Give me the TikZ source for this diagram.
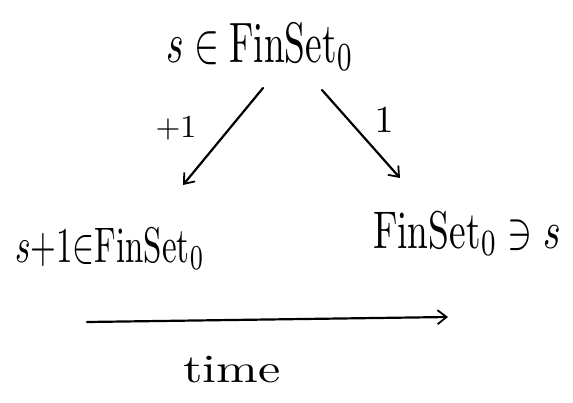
\documentclass[tikz,border=0pt]{standalone}
\usepackage{graphicx}
\usetikzlibrary{arrows.meta,calc}
\tikzset{
  lbl/.style={inner sep=0pt, anchor=base},
  arr/.style={line width=2.2pt, line cap=round,
    -{Straight Barb[length=9pt,width=14pt,line width=1.8pt]}},
}
\begin{document}
\begin{tikzpicture}[x=1pt,y=-1pt]
\useasboundingbox (0,0) rectangle (573,402);
\node[lbl] (top) at (260,62) {\scalebox{3.74}[5.7]{$s\in\mathrm{FinSet}_0$}};
\node[lbl] (bl) at (110,262) {\scalebox{3.3}[5]{$s{+}1{\in}\mathrm{FinSet}_0$}};
\node[lbl] (br) at (467,248) {\scalebox{3.74}[5.3]{$\mathrm{FinSet}_0\ni s$}};
\node[lbl] (time) at (232,382) {\scalebox{5}[4]{time}};
\node[lbl] (plus) at (176,137) {\scalebox{3.2}{$+1$}};
\node[lbl] (one) at (384,132) {\scalebox{3.8}{$1$}};
\draw[arr] ([shift={(3,26)}]top.base) -- ([shift={(73,-77)}]bl.base);
\draw[arr] ([shift={(62,28)}]top.base) -- ([shift={(-67,-70)}]br.base);
\coordinate (t0) at (87,322);
\coordinate (t1) at (448,317);
\draw[arr] (t0) -- (t1);
\end{tikzpicture}
\end{document}
